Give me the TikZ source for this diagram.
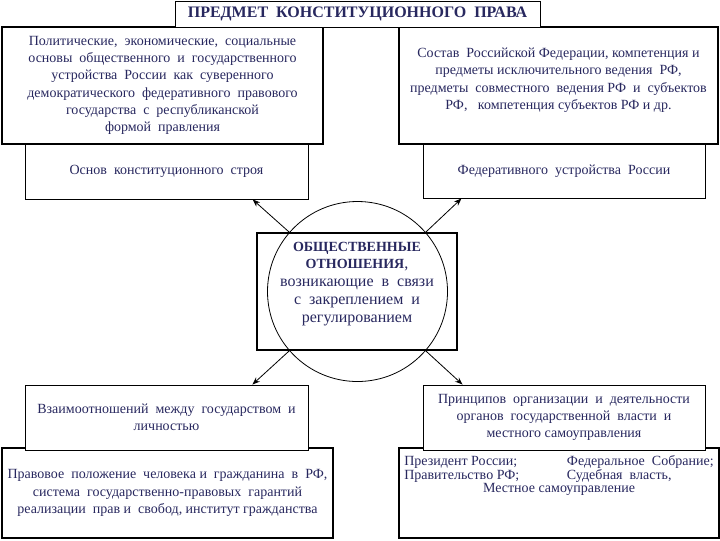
\documentclass[tikz,border=0pt]{standalone}
\usepackage{fontspec}
\setmainfont{Liberation Serif}
\usetikzlibrary{arrows.meta}
\definecolor{ink}{RGB}{40,40,95}
\tikzset{
  bigbox/.style={draw, line width=1.4pt, fill=white, inner sep=1pt, text=ink, align=center, font=\fontsize{10.5}{13}\selectfont},
  smallbox/.style={draw, line width=0.7pt, fill=white, inner sep=1pt, text=ink, align=center, font=\fontsize{10.5}{13}\selectfont},
}
\begin{document}
\begin{tikzpicture}[x=0.75pt, y=-0.75pt, >=Stealth]
\useasboundingbox (0,0) rectangle (720,540);
% upper row
\node[smallbox, minimum width=212.25pt, minimum height=41.25pt] (osnovy) at (166.5,171.5) {Основ\ \ конституционного\ \ строя};
\node[smallbox, minimum width=211.5pt, minimum height=40.5pt] (federat) at (564,171) {Федеративного\ \ устройства\ \ России};
\node[bigbox, minimum width=240.75pt, minimum height=87.75pt] (osnovyT) at (162.5,85.5) {Политические,\ \ экономические,\ \ социальные\\ основы\ \ общественного\ \ и\ \ государственного\\ устройства\ \ России\ \ как\ \ суверенного\\ демократического\ \ федеративного\ \ правового\\ государства\ \ с\ \ республиканской\\ формой\ \ правления};
\node[bigbox, minimum width=239.25pt, minimum height=87.75pt] (federatT) at (558.5,85.5) {\raisebox{4pt}[\height][\depth]{\begin{tabular}{@{}c@{}}Состав\ \ Российской Федерации, компетенция и\\ предметы исключительного ведения\ \ РФ,\\ предметы\ \ совместного\ \ ведения РФ\ \ и\ \ субъектов\\ РФ,\ \ \ компетенция субъектов РФ и др.\end{tabular}}};
\node[draw, line width=0.7pt, fill=white, text=ink, font=\bfseries\fontsize{12}{14}\selectfont, minimum width=273.75pt, minimum height=19.5pt] (title) at (357.5,14) {ПРЕДМЕТ\ \ КОНСТИТУЦИОННОГО\ \ ПРАВА};
% centre
\node[draw, line width=1.8pt, minimum width=150pt, minimum height=87.75pt, text=ink, font=\fontsize{12}{13.5}\selectfont] (otnosh) at (357,291.5) {\raisebox{6pt}[\height][\depth]{\begin{tabular}{@{}c@{}}{\fontsize{10.5}{12}\selectfont\bfseries ОБЩЕСТВЕННЫЕ}\\[-1pt] {\fontsize{10.5}{12}\selectfont\bfseries ОТНОШЕНИЯ}, \\ возникающие\ \ в\ \ связи\\ с\ \ закреплением\ \ и\\ регулированием\end{tabular}}};
\node[circle, draw, line width=0.6pt, minimum size=135pt] (ring) at (357.5,291.5) {};
% lower row
\node[bigbox, minimum width=248.25pt, minimum height=67.5pt] (pravovoe) at (167.5,493) {Правовое\ \ положение\ \ человека и\ \ гражданина\ \ в\ \ РФ,\\ система\ \ государственно-правовых\ \ гарантий\\ реализации\ \ прав и\ \ свобод, институт гражданства};
\node[bigbox, minimum width=240pt, minimum height=67.5pt] (organy) at (559,493) {\raisebox{13pt}[\height][\depth]{\fontsize{10.5}{10}\selectfont\begin{tabular}{@{}p{122pt}@{}l@{}}Президент России; & Федеральное\ \ Собрание;\\ Правительство РФ; & Судебная\ \ власть,\\ \multicolumn{2}{@{}c@{}}{Местное самоуправление}\end{tabular}}};
\node[smallbox, minimum width=212.25pt, minimum height=48.75pt] (lichnost) at (166.5,417.5) {Взаимоотношений\ \ между\ \ государством\ \ и\\ личностью};
\node[smallbox, minimum width=211.5pt, minimum height=48.75pt] (principy) at (564,417.5) {Принципов\ \ организации\ \ и\ \ деятельности\\ органов\ \ государственной\ \ власти\ \ и\\ местного самоуправления};
% arrows
\draw[->, line width=0.6pt] (ring.139) -- (osnovy.-18);
\draw[->, line width=0.6pt] (ring.41) -- (federat.195);
\draw[->, line width=0.6pt] (ring.221) -- (lichnost.21);
\draw[->, line width=0.6pt] (ring.-41) -- (principy.162);
\end{tikzpicture}
\end{document}
